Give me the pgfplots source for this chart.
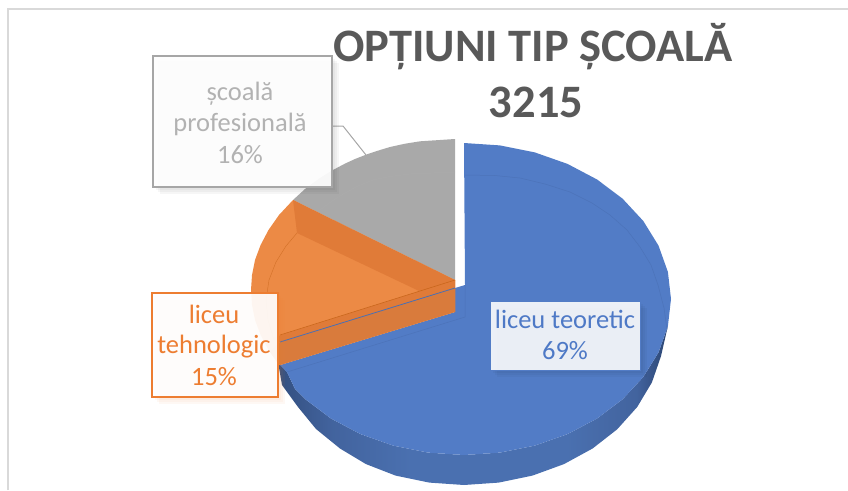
\documentclass[border=0pt]{standalone}
\usepackage{fontspec}
\setmainfont{Carlito}
\usepackage{pgfplots}
\pgfplotsset{compat=1.18}
\definecolor{blueTop}{HTML}{527CC6}
\definecolor{blueLine}{HTML}{4A6FB4}
\definecolor{blueText}{HTML}{4E79C6}
\definecolor{oraTop}{HTML}{EC8A45}
\definecolor{oraBand}{HTML}{E07B38}
\definecolor{oraWall}{HTML}{D97B3C}
\definecolor{oraEdge}{HTML}{C9661C}
\definecolor{oraBorder}{HTML}{ED7D31}
\definecolor{grayTop}{HTML}{A9A9A9}
\definecolor{grayBorder}{HTML}{A6A6A6}
\definecolor{grayText}{HTML}{B2B2B2}
\definecolor{titleCol}{HTML}{595959}
\definecolor{frameCol}{HTML}{D9D9D9}
\pgfdeclarehorizontalshading{sideShade}{100bp}{
  rgb(0bp)=(0.20,0.31,0.50); rgb(25bp)=(0.20,0.31,0.50);
  rgb(32bp)=(0.26,0.39,0.62); rgb(42bp)=(0.29,0.44,0.69);
  rgb(62bp)=(0.29,0.44,0.69); rgb(71bp)=(0.26,0.39,0.62);
  rgb(75bp)=(0.17,0.27,0.45); rgb(100bp)=(0.17,0.27,0.45)}
\begin{document}
\begin{tikzpicture}
\useasboundingbox (0,0) rectangle (848pt,490pt);
\begin{axis}[
  at={(0,0)}, anchor=south west,
  width=848pt, height=490pt, scale only axis,
  xmin=0, xmax=848, ymin=0, ymax=490, y dir=reverse,
  axis lines=none, clip=false, enlargelimits=false,
  tick style={draw=none}, xtick=\empty, ytick=\empty]

% chart frame
\addplot[draw=frameCol, line width=2pt] coordinates {(8,490) (8,9) (848,9)};

% blue side wall
\addplot[draw=none, shading=sideShade, shading angle=0]
 coordinates {(667.9,326) (658.5,352.4) (643.3,377) (622.6,399.3) (597.1,418.5) (567.5,434.1) (534.8,445.6) (499.9,452.6) (464,455)
 (428.1,452.6) (393.2,445.6) (360.5,434.1) (330.9,418.5) (305.4,399.3) (295,389) (287,372) (278,362)
 (282,385) (298,407) (316,429) (340,448.5) (366,464.1) (395.6,475.6) (429.3,482.6) (464,485) (498.7,482.6) (532.4,475.6) (564,464.1)
 (592.6,448.5) (617.2,429.3) (637.2,407) (651.9,382.4) (661,356.1)} --cycle;

% blue top face
\addplot[fill=blueTop, draw=none]
 coordinates {(464,143) (499.9,145.4) (534.8,152.4) (567.5,163.9) (597.1,179.5) (622.6,198.7) (643.3,221) (658.5,245.6) (667.9,271.9) (671,299)
 (667.9,326.1) (658.5,352.4) (643.3,377) (622.6,399.3) (597.1,418.5) (567.5,434.1) (534.8,445.6) (499.9,452.6) (464,455)
 (428.1,452.6) (393.2,445.6) (360.5,434.1) (330.9,418.5) (305.4,399.3) (295,389) (287,372) (280,365) (455,312) (455,288) (465,285)} --cycle;
\addplot[draw=blueLine!70!blueTop, line width=.5pt] coordinates {(465,175) (495,175.5) (520,178) (545,184) (570,192) (592,203) (610,215) (627,230) (640,247) (651,265) (658,285) (664,308) (667,330)};
\addplot[draw=blueLine!70!blueTop, line width=.5pt] coordinates {(465,285) (465,317) (287,372)};

% gray top face
\addplot[fill=grayTop, draw=none]
 coordinates {(455,139) (420,141.3) (405,143.7) (390,147) (380,150) (367,154.3) (355,159) (345,163.6) (332,170.5) (320,178) (312,183.8) (305,189) (293,200) (455,280)} --cycle;
\addplot[draw=gray!65, line width=.4pt] coordinates {(320,210) (332,201) (345,193) (358,186) (373,180) (390,176.5) (410,174) (455,172)};

% orange slice: whole silhouette in light orange
\addplot[fill=oraTop, draw=none]
 coordinates {(293,200) (279,215) (268.5,230) (260.6,245) (255,260) (252,275) (251,290) (252,305) (255,320) (260.6,335) (268.5,350) (279,365) (280,365) (455,312) (455,280)} --cycle;
% dark band along the gray side
\addplot[fill=oraBand, draw=none]
 coordinates {(293,200) (455,280) (455,312) (417,290) (297,233)} --cycle;
\addplot[fill=oraWall, draw=none]
 coordinates {(455,288) (455,312) (280,365) (270,352) (280,342)} --cycle;
\addplot[fill=oraBand, draw=none]
 coordinates {(455,280) (455,288) (280,342) (272,338)} --cycle;
\addplot[draw=oraEdge!70!oraTop, line width=.4pt] coordinates {(297,233) (286,246) (276,262) (269,280) (266,300) (268,320) (274,340)};
\addplot[draw=oraEdge, line width=.6pt] coordinates {(455,280) (280,335)};
\addplot[draw=blueLine, line width=.8pt] coordinates {(455,288) (280,342)};

% leader line
\addplot[draw=grayBorder, line width=1pt] coordinates {(332,126) (343,126) (366,155)};

% label boxes: soft shadows, then box
\foreach \s in {7,5,3,1}{
  \edef\tmp{\noexpand\fill[black, opacity=.035] (axis cs:{153+\s},{56+\s}) rectangle (axis cs:{332+\s},{187+\s});
  \noexpand\fill[oraBorder, opacity=.05] (axis cs:{152+\s},{293+\s}) rectangle (axis cs:{278+\s},{397+\s});
  \noexpand\fill[black, opacity=.03] (axis cs:{490+\s},{301+\s}) rectangle (axis cs:{640+\s},{370+\s});}
  \tmp
}
\addplot[fill=white, fill opacity=.93, draw=grayBorder, line width=1.8pt] coordinates {(153,56) (332,56) (332,187) (153,187)} --cycle;
\addplot[fill=white, fill opacity=.92, draw=oraBorder, line width=1.8pt] coordinates {(152,293) (278,293) (278,397) (152,397)} --cycle;
\addplot[fill=white, fill opacity=.89, draw=blueTop, line width=.8pt] coordinates {(490,301) (640,301) (640,370) (490,370)} --cycle;

% labels
\node[anchor=base, font=\fontsize{26.5}{26.5}\selectfont, text=grayText] at (axis cs:240,100) {școală};
\node[anchor=base, font=\fontsize{26.5}{26.5}\selectfont, text=grayText] at (axis cs:240,131) {profesională};
\node[anchor=base, font=\fontsize{26.5}{26.5}\selectfont, text=grayText] at (axis cs:240,163) {16\%};
\node[anchor=base, font=\fontsize{26.5}{26.5}\selectfont, text=oraBorder] at (axis cs:214,323) {liceu};
\node[anchor=base, font=\fontsize{26.5}{26.5}\selectfont, text=oraBorder] at (axis cs:214,353) {tehnologic};
\node[anchor=base, font=\fontsize{26.5}{26.5}\selectfont, text=oraBorder] at (axis cs:214,385) {15\%};
\node[anchor=base, font=\fontsize{26.5}{26.5}\selectfont, text=blueText] at (axis cs:565,328) {liceu teoretic};
\node[anchor=base, font=\fontsize{26.5}{26.5}\selectfont, text=blueText] at (axis cs:565,359) {69\%};

% title
\node[anchor=base, font=\fontsize{46.5}{46.5}\bfseries\selectfont, text=titleCol] at (axis cs:533,61) {OPȚIUNI TIP ȘCOALĂ};
\node[anchor=base, font=\fontsize{46.5}{46.5}\bfseries\selectfont, text=titleCol] at (axis cs:536,117) {3215};
\end{axis}
\end{tikzpicture}
\end{document}
